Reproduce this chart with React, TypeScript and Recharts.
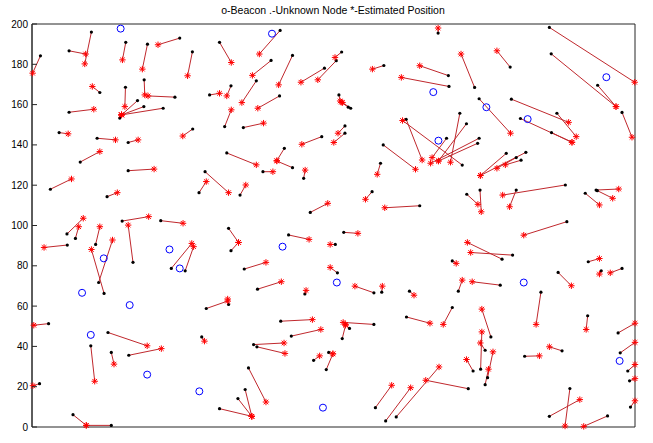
import { ScatterChart, Scatter, XAxis, YAxis, ReferenceLine, ReferenceArea } from "recharts";

// unknown nodes (black dots) and their estimated positions (red stars), pairwise
const unknownX = [
  2.8, 12.3, 19.7, 31.1, 38.3, 49.0, 53.2, 22.5, 37.2, 47.4, 31.0, 35.0, 37.1, 43.5, 29.1, 12.3, 9.0, 21.6, 31.9, 53.3, 16.0,
  62.2, 82.3, 79.3, 86.4, 97.0, 100.9, 74.4, 66.0, 58.9, 82.1, 63.9, 70.1, 96.1, 83.7, 64.6,
  134.7, 102.7, 116.7, 138.1, 138.3, 146.8, 148.3, 101.8, 104.9, 105.7, 103.8, 103.8, 116.5,
  124.1, 142.7, 141.9, 144.1, 137.5, 148.3, 147.8,
  171.6, 172.2, 187.6, 195.7, 159.0, 174.1, 162.0, 172.3, 158.6,
  157.3, 163.8, 160.6, 162.2,
  31.9, 6.1, 24.9, 11.6, 14.4, 11.7, 21.1, 22.1, 23.9, 29.9, 33.5, 42.7, 46.2, 50.8,
  76.6, 86.4, 90.1, 57.4, 55.4, 69.0, 92.3, 65.2, 66.0, 85.1, 100.6, 70.4, 101.3, 74.8, 90.5, 57.8, 65.2,
  115.6, 112.8, 128.6, 144.2, 148.6, 103.4, 113.4, 116.0, 125.2, 155.9, 159.4, 139.4, 141.4, 155.3,
  176.9, 160.6, 183.5, 187.1, 187.5, 177.4, 184.5, 188.8, 195.7, 174.5, 168.8,
  5.5, 25.2, 19.5, 26.3, 32.1, 2.5, 13.6, 26.3,
  82.5, 86.0, 56.3, 73.5, 74.6, 93.4, 98.4, 97.6, 71.8, 70.7, 68.3, 62.2,
  139.4, 124.2, 113.4, 105.3, 102.9, 113.9, 117.3, 120.8, 144.7, 152.2, 146.3,
  148.8, 150.3, 151.1, 150.3,
  184.3, 175.8, 163.4, 178.4, 171.6, 190.9, 194.4, 195.1, 197.6, 198.2, 198.5,
];
const unknownY = [
  184.2, 186.7, 196.0, 190.9, 190.0, 193.0, 186.2, 166.0, 172.3, 163.7, 168.6, 162.0, 159.0, 158.2, 153.3, 156.2, 146.1, 143.3, 141.2, 147.9, 131.5,
  190.9, 196.8, 181.9, 184.4, 178.1, 181.8, 171.8, 169.3, 164.8, 164.3, 149.1, 148.6, 144.1, 138.3, 136.0,
  195.5, 186.1, 179.4, 174.4, 169.0, 168.5, 162.9, 164.8, 158.7, 158.2, 149.4, 145.8, 140.0,
  152.7, 130.0, 155.7, 150.5, 143.3, 143.3, 140.8,
  198.3, 185.2, 169.6, 156.1, 162.7, 155.7, 153.1, 146.1, 178.6,
  135.8, 136.3, 133.7, 132.4,
  127.2, 118.0, 114.3, 95.8, 93.6, 90.3, 90.6, 71.7, 66.3, 102.2, 81.7, 102.4, 78.7, 77.5,
  126.7, 128.7, 123.4, 126.7, 116.3, 115.1, 106.5, 98.6, 87.5, 95.3, 90.6, 78.4, 76.5, 68.4, 66.0, 58.8, 60.8,
  130.9, 116.8, 109.8, 115.5, 117.6, 96.6, 66.6, 66.9, 67.4, 83.3, 85.3, 82.4, 67.4, 70.4,
  120.1, 117.6, 116.0, 117.6, 117.3, 101.9, 82.0, 77.5, 78.7, 76.7, 66.9,
  51.3, 46.9, 40.3, 37.0, 35.6, 21.5, 6.1, 0.8,
  52.5, 45.1, 44.7, 40.9, 39.8, 33.1, 37.0, 28.5, 29.3, 18.6, 14.1, 9.1,
  59.3, 54.6, 50.9, 48.9, 43.9, 9.6, 3.0, 5.0, 19.0, 44.7, 27.8,
  28.7, 38.1, 24.5, 21.0,
  55.2, 37.8, 35.1, 19.1, 5.3, 5.5, 46.7, 36.8, 27.8, 22.9, 9.9,
];
const estX = [
  0.2, 17.8, 17.5, 30.0, 36.6, 41.8, 51.6, 20.0, 37.4, 38.5, 30.8, 29.7, 29.7, 29.7, 29.7, 20.5, 12.0, 27.7, 35.2, 50.0, 22.5,
  66.1, 75.4, 73.1, 81.8, 89.2, 94.8, 69.6, 64.6, 62.2, 74.9, 66.1, 76.8, 89.5, 81.2, 74.4,
  134.7, 100.5, 112.9, 128.6, 122.5, 142.3, 158.7, 102.2, 102.6, 103.0, 101.5, 100.1, 127.2,
  129.4, 122.9, 138.8, 134.8, 132.7, 132.2, 134.8,
  199.9, 193.7, 193.7, 199.0, 178.0, 180.5, 179.1, 179.1, 154.2,
  148.7, 148.7, 154.2, 157.0,
  40.5, 13.1, 28.3, 17.0, 15.5, 4.0, 22.5, 26.7, 19.7, 38.7, 31.9, 50.1, 53.0, 53.6,
  79.9, 81.2, 90.6, 65.2, 57.8, 70.9, 98.1, 68.5, 68.5, 91.9, 98.9, 77.6, 98.9, 82.7, 90.9, 64.9, 64.9,
  114.5, 110.6, 117.0, 147.9, 149.0, 108.1, 107.1, 116.2, 126.7, 144.4, 145.5, 140.7, 142.7, 146.0,
  156.1, 158.4, 188.2, 194.6, 192.6, 163.1, 188.2, 188.2, 191.8, 178.9, 167.2,
  0.6, 38.2, 20.8, 27.2, 42.9, 0.3, 18.0, 18.0,
  93.0, 95.8, 57.2, 83.6, 83.9, 95.4, 99.8, 99.8, 77.6, 72.9, 72.9, 72.9,
  136.4, 132.0, 103.2, 104.0, 104.0, 119.3, 125.6, 135.0, 130.6, 149.2, 144.1,
  149.2, 148.7, 152.9, 151.4,
  183.8, 171.6, 168.3, 176.8, 181.7, 183.0, 200.0, 200.0, 200.0, 200.0, 200.0,
];
const estY = [
  175.6, 185.1, 180.2, 182.2, 177.6, 189.7, 174.3, 169.0, 164.8, 164.3, 159.0, 154.9, 154.9, 154.9, 154.9, 157.7, 145.5, 142.5, 142.5, 144.4, 136.7,
  180.9, 185.1, 174.5, 169.8, 171.1, 172.3, 161.0, 164.3, 165.6, 158.2, 157.4, 150.8, 140.3, 132.2, 130.1,
  198.0, 183.4, 177.6, 179.3, 173.5, 185.1, 145.8, 161.8, 161.2, 161.0, 145.8, 141.2, 127.9,
  132.5, 152.1, 131.4, 132.0, 133.7, 130.9, 132.0,
  171.1, 159.0, 159.0, 143.8, 151.2, 144.1, 141.3, 141.3, 186.7,
  124.8, 124.8, 128.4, 130.1,
  128.0, 123.1, 116.3, 103.6, 99.4, 89.1, 99.4, 92.8, 88.1, 104.4, 100.2, 101.1, 91.1, 89.5,
  126.7, 132.0, 127.5, 116.3, 121.8, 120.1, 111.0, 91.6, 91.6, 93.1, 90.6, 81.7, 79.2, 72.1, 67.8, 62.5, 63.5,
  125.4, 113.0, 108.8, 110.5, 106.8, 96.1, 69.9, 69.9, 65.4, 91.6, 86.6, 81.2, 72.9, 72.1,
  115.1, 109.3, 110.2, 118.1, 113.5, 95.2, 83.6, 75.9, 76.5, 70.1, 50.9,
  50.5, 40.3, 22.7, 31.2, 38.9, 20.5, 0.8, 0.8,
  53.3, 48.4, 42.6, 41.7, 36.5, 35.3, 36.3, 36.3, 12.4, 5.3, 5.3, 5.3,
  50.9, 51.5, 51.9, 50.9, 50.5, 20.7, 19.5, 29.8, 23.2, 58.5, 33.5,
  47.2, 41.7, 37.3, 28.7,
  48.4, 39.8, 35.3, 0.5, 13.6, 0.3, 51.5, 42.0, 31.0, 24.0, 13.0,
];
const beaconX = [29.4, 79.6, 133.1, 150.7, 190.5, 164.4, 134.8, 23.8, 45.6, 49.0, 16.6, 32.4, 19.5, 38.2, 83.1, 101.1, 55.5, 96.5, 163.1, 194.9];
const beaconY = [197.7, 195.2, 166.2, 158.7, 173.6, 152.8, 142.1, 83.7, 88.1, 78.7, 66.6, 60.5, 45.7, 26.0, 89.5, 71.7, 17.7, 9.6, 71.7, 32.8];

const ticks = [0, 20, 40, 60, 80, 100, 120, 140, 160, 180, 200];

const unknown = unknownX.map((x, i) => ({ x, y: unknownY[i] }));
const estimated = estX.map((x, i) => ({ x, y: estY[i] }));
const beacons = beaconX.map((x, i) => ({ x, y: beaconY[i] }));

const FONT = "'Liberation Sans', Arial, sans-serif";
const AXIS = "#262626";

// MATLAB-style ticks: short marks pointing into the box, labels only bottom/left
function BoxTick(props: any) {
  const { x, y, payload, side } = props;
  if (side === "bottom") {
    return (
      <g>
        <line x1={x} y1={y - 4} x2={x} y2={y - 9} stroke={AXIS} />
        <text x={x} y={y + 10} textAnchor="middle" fontSize={10} fontFamily={FONT} fill="#000">{payload.value}</text>
      </g>
    );
  }
  if (side === "left") {
    return (
      <g>
        <line x1={x + 4} y1={y} x2={x + 9} y2={y} stroke={AXIS} />
        <text x={x} y={y + 3.5} textAnchor="end" fontSize={10} fontFamily={FONT} fill="#000">{payload.value}</text>
      </g>
    );
  }
  if (side === "top") return <line x1={x} y1={y + 4} x2={x} y2={y + 9} stroke={AXIS} />;
  return <line x1={x - 4} y1={y} x2={x - 9} y2={y} stroke={AXIS} />;
}

function Star({ cx, cy }: any) {
  const s = 3.2;
  const d = 2.3;
  return (
    <g stroke="#ff0000" strokeWidth={1}>
      <line x1={cx - s} y1={cy} x2={cx + s} y2={cy} />
      <line x1={cx} y1={cy - s} x2={cx} y2={cy + s} />
      <line x1={cx - d} y1={cy - d} x2={cx + d} y2={cy + d} />
      <line x1={cx - d} y1={cy + d} x2={cx + d} y2={cy - d} />
    </g>
  );
}

function Dot({ cx, cy }: any) {
  return <circle cx={cx} cy={cy} r={1.6} fill="#000" />;
}

function Beacon({ cx, cy }: any) {
  return <circle cx={cx} cy={cy} r={3.5} fill="none" stroke="#0000ff" strokeWidth={1} />;
}

export default function App() {
  return (
    <div style={{ position: "absolute", left: 0, top: 0, width: 653, height: 443, background: "#fff" }}>
      <div
        style={{
          position: "absolute", left: 32, top: 4, width: 602, textAlign: "center",
          fontFamily: FONT, fontSize: 10.5, color: "#000",
        }}
      >
        o-Beacon .-Unknown Node *-Estimated Position
      </div>
      <ScatterChart width={653} height={443} margin={{ top: 24, right: 18, bottom: 16, left: 0 }}>
        <XAxis
          type="number" dataKey="x" domain={[0, 200]} ticks={ticks} interval={0} height={0}
          tickSize={0} tickMargin={4} tickLine={false} stroke={AXIS}
          tick={<BoxTick side="bottom" />}
        />
        <XAxis
          xAxisId="top" orientation="top" type="number" dataKey="x" domain={[0, 200]} ticks={ticks} interval={0}
          height={0} tickSize={0} tickMargin={4} tickLine={false} stroke={AXIS}
          tick={<BoxTick side="top" />}
        />
        <YAxis
          type="number" dataKey="y" domain={[0, 200]} ticks={ticks} interval={0} width={32}
          tickSize={0} tickMargin={4} tickLine={false} stroke={AXIS}
          tick={<BoxTick side="left" />}
        />
        <YAxis
          yAxisId="right" orientation="right" type="number" dataKey="y" domain={[0, 200]} ticks={ticks} interval={0}
          width={0} tickSize={0} tickMargin={4} tickLine={false} stroke={AXIS}
          tick={<BoxTick side="right" />}
        />
        <ReferenceArea x1={0} x2={200} y1={0} y2={200} fill="none" stroke={AXIS} strokeWidth={1} fillOpacity={0} />
        {unknown.map((u, i) => (
          <ReferenceLine
            key={i}
            segment={[u, estimated[i]]}
            stroke="#c0282d"
            strokeWidth={1}
            ifOverflow="visible"
          />
        ))}
        <Scatter data={beacons} shape={<Beacon />} isAnimationActive={false} />
        <Scatter data={unknown} shape={<Dot />} isAnimationActive={false} />
        <Scatter data={estimated} shape={<Star />} isAnimationActive={false} />
      </ScatterChart>
    </div>
  );
}
